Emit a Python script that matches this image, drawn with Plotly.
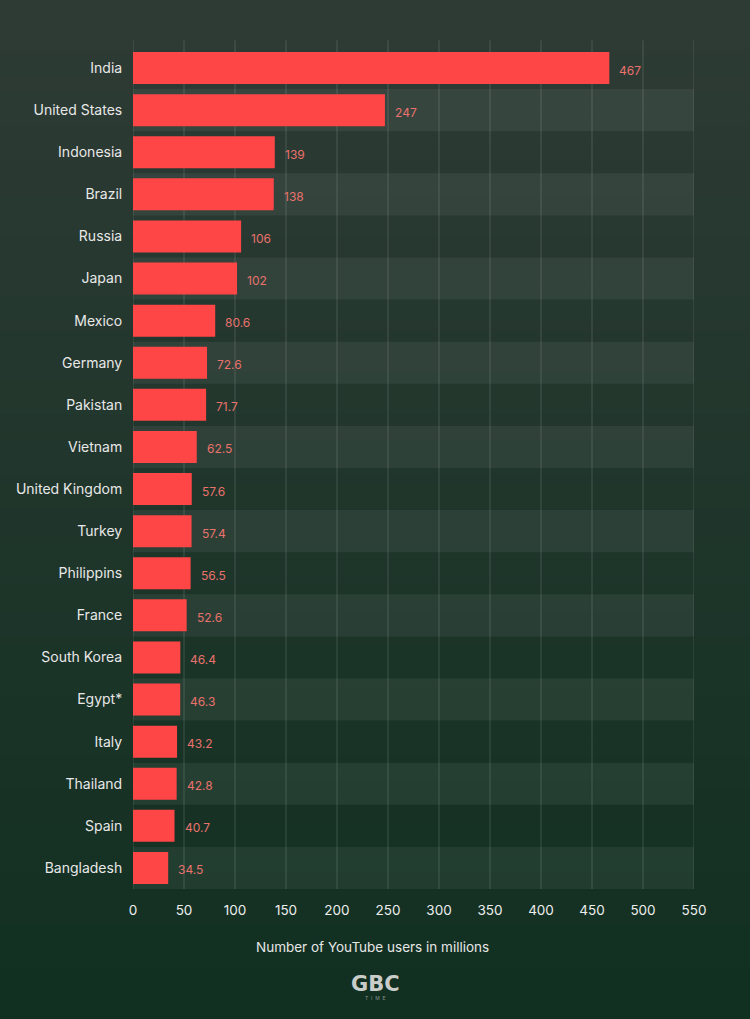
import plotly.graph_objects as go

countries = ["India", "United States", "Indonesia", "Brazil", "Russia", "Japan", "Mexico",
             "Germany", "Pakistan", "Vietnam", "United Kingdom", "Turkey", "Philippins",
             "France", "South Korea", "Egypt*", "Italy", "Thailand", "Spain", "Bangladesh"]
users = [467, 247, 139, 138, 106, 102, 80.6, 72.6, 71.7, 62.5, 57.6, 57.4, 56.5,
         52.6, 46.4, 46.3, 43.2, 42.8, 40.7, 34.5]
labels = ["467", "247", "139", "138", "106", "102", "80.6", "72.6", "71.7", "62.5", "57.6",
          "57.4", "56.5", "52.6", "46.4", "46.3", "43.2", "42.8", "40.7", "34.5"]
x_ticks = [0, 50, 100, 150, 200, 250, 300, 350, 400, 450, 500, 550]
x_title = "Number of YouTube users in millions"

FONT = "Inter"
W, H = 750, 1019
ML, MR, MT, MB = 133, 56, 47, 130
PW, PH = W - ML - MR, H - MT - MB

fig = go.Figure()
fig.add_trace(go.Bar(
    y=countries, x=users, orientation="h",
    marker=dict(color="#ff4646", line=dict(width=0)),
    width=0.76, hoverinfo="skip",
))

shapes = []
# background gradient strips
top = (46, 59, 53)
bot = (17, 48, 33)
N = 120
ytop = 1 + MT / PH
step = (H / PH) / N
for i in range(N):
    t = i / (N - 1)
    c = tuple(round(top[k] + (bot[k] - top[k]) * t) for k in range(3))
    shapes.append(dict(type="rect", xref="paper", yref="paper",
                       x0=-ML / PW - 0.01, x1=1 + MR / PW + 0.01,
                       y0=ytop - (i + 1) * step - 0.001, y1=ytop - i * step + 0.001,
                       fillcolor="rgb(%d,%d,%d)" % c, line=dict(width=0), layer="below"))
# alternating bands
for i, c in enumerate(countries):
    if i % 2 == 1:
        shapes.append(dict(type="rect", xref="x", yref="y",
                           x0=x_ticks[0], x1=x_ticks[-1], y0=i - 0.5, y1=i + 0.5,
                           fillcolor="rgba(255,255,255,0.06)", line=dict(width=0), layer="below"))
# gridlines
for t in x_ticks:
    shapes.append(dict(type="line", xref="x", yref="paper", x0=t, x1=t, y0=0, y1=1.008,
                       line=dict(color="rgba(255,255,255,0.16)", width=1), layer="below"))

annotations = []
for c, v, lab in zip(countries, users, labels):
    annotations.append(dict(x=v, y=c, xref="x", yref="y", text=lab, showarrow=False,
                            xanchor="left", yanchor="middle", xshift=8, yshift=-2,
                            font=dict(family=FONT, size=12, color="#e9726c")))
cx = (372 - ML) / PW
annotations.append(dict(x=cx, y=0, xref="paper", yref="paper", text=x_title, showarrow=False,
                        xanchor="center", yanchor="middle", yshift=-58,
                        font=dict(family=FONT, size=13.5, color="#e6e6e6")))
annotations.append(dict(x=(375 - ML) / PW, y=0, xref="paper", yref="paper", text="<b>GBC</b>",
                        showarrow=False, xanchor="center", yanchor="middle", yshift=-95,
                        font=dict(family="DejaVu Sans", size=21, color="#c9cdca")))
annotations.append(dict(x=(375 - ML) / PW, y=0, xref="paper", yref="paper", text="T  I  M  E",
                        showarrow=False, xanchor="center", yanchor="middle", yshift=-109,
                        font=dict(family=FONT, size=5, color="#8a948f")))

fig.update_layout(
    width=W, height=H,
    margin=dict(l=ML, r=MR, t=MT, b=MB, pad=0),
    paper_bgcolor="#1d3a2b", plot_bgcolor="rgba(0,0,0,0)",
    showlegend=False, bargap=0.24,
    shapes=shapes, annotations=annotations,
    xaxis=dict(range=[x_ticks[0], x_ticks[-1]], tickvals=x_ticks, showgrid=False, zeroline=False,
               showline=False, ticks="outside", ticklen=9, tickcolor="rgba(0,0,0,0)",
               tickfont=dict(family=FONT, size=13.5, color="#eeeeee"), fixedrange=True),
    yaxis=dict(autorange="reversed", showgrid=False, zeroline=False, showline=False,
               ticks="outside", ticklen=7, tickcolor="rgba(0,0,0,0)",
               tickfont=dict(family=FONT, size=14, color="#e8e8e8"), fixedrange=True),
)

fig.write_html("out.html", config={"displayModeBar": False},
               post_script="document.body.style.margin='0';document.body.style.padding='0';"
                           "document.body.style.overflow='hidden';")
